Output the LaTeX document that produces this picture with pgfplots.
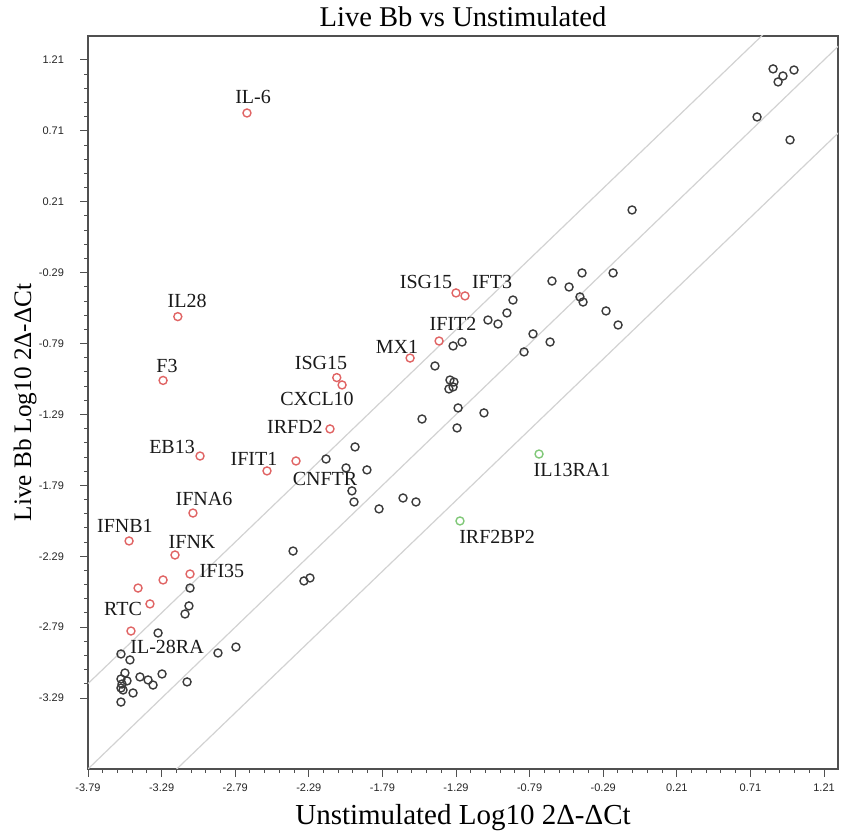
\documentclass[border=0pt]{standalone}
\usepackage{fontspec}
\setmainfont{Liberation Serif}
\newfontfamily\tickfont{Liberation Sans}
\usepackage{pgfplots}
\pgfplotsset{compat=1.18}
\definecolor{ptblack}{HTML}{3A3A3A}
\definecolor{ptred}{HTML}{E06464}
\definecolor{ptgreen}{HTML}{80C878}
\definecolor{diag}{HTML}{D2D2D2}
\definecolor{axcol}{HTML}{505050}

\pgfplotstableread{
x y
0.864 1.147
0.931 1.097
0.898 1.055
1.006 1.139
0.755 0.808
0.979 0.646
-0.094 0.152
-0.638 -0.349
-0.434 -0.292
-0.223 -0.292
-0.522 -0.391
-0.448 -0.461
-0.427 -0.497
-0.271 -0.560
-0.189 -0.659
-0.903 -0.483
-0.944 -0.574
-1.073 -0.624
-1.005 -0.652
-0.767 -0.722
-0.651 -0.779
-0.828 -0.849
-1.249 -0.779
-1.310 -0.807
-1.433 -0.948
-1.331 -1.047
-1.304 -1.061
-1.310 -1.096
-1.338 -1.110
-1.276 -1.244
-1.100 -1.279
-1.521 -1.322
-1.283 -1.385
-1.976 -1.519
-2.173 -1.604
-2.037 -1.667
-1.895 -1.681
-1.997 -1.829
-1.983 -1.907
-1.813 -1.956
-1.650 -1.879
-1.562 -1.907
-2.397 -2.253
-2.323 -2.464
-2.282 -2.443
-3.097 -2.514
-3.104 -2.640
-3.131 -2.697
-3.314 -2.831
-2.907 -2.972
-2.785 -2.930
-3.566 -2.979
-3.505 -3.021
-3.539 -3.113
-3.437 -3.141
-3.382 -3.162
-3.348 -3.198
-3.287 -3.120
-3.117 -3.176
-3.566 -3.155
-3.559 -3.191
-3.566 -3.219
-3.552 -3.233
-3.525 -3.169
-3.484 -3.254
-3.566 -3.318
}\blackpts

\pgfplotstableread{
x y
-2.710 0.836
-3.180 -0.600
-3.280 -1.050
-2.100 -1.030
-2.064 -1.082
-2.146 -1.392
-2.377 -1.618
-2.574 -1.688
-3.029 -1.583
-3.077 -1.985
-3.511 -2.182
-3.199 -2.281
-3.097 -2.415
-3.280 -2.457
-3.450 -2.514
-3.369 -2.626
-3.498 -2.817
-1.290 -0.433
-1.229 -0.454
-1.405 -0.772
-1.602 -0.892
}\redpts

\pgfplotstableread{
x y
-0.726 -1.569
-1.263 -2.041
}\greenpts

\begin{document}
\begin{tikzpicture}
\path[use as bounding box] (-44pt,-34.5pt) rectangle (376.5pt,384.5pt);
\begin{axis}[
  scale only axis, width=375pt, height=366.5pt,
  at={(0,0)}, anchor=south west,
  xmin=-3.79, xmax=1.305, ymin=-3.79, ymax=1.379,
  xtick={-3.79,-3.29,-2.79,-2.29,-1.79,-1.29,-0.79,-0.29,0.21,0.71,1.21},
  xticklabels={-3.79,-3.29,-2.79,-2.29,-1.79,-1.29,-0.79,-0.29,0.21,0.71,1.21},
  ytick={-3.29,-2.79,-2.29,-1.79,-1.29,-0.79,-0.29,0.21,0.71,1.21},
  yticklabels={-3.29,-2.79,-2.29,-1.79,-1.29,-0.79,-0.29,0.21,0.71,1.21},
  minor x tick num=4, minor y tick num=4,
  tick align=outside, xtick pos=bottom, ytick pos=left,
  major tick length=4pt, minor tick length=2pt,
  every tick/.style={axcol, line width=0.5pt},
  axis line style={axcol, line width=0.9pt},
  xticklabel style={font=\tickfont\fontsize{5.5}{6}\selectfont, text=black!85},
  yticklabel style={font=\tickfont\fontsize{5.5}{6}\selectfont, text=black!85, xshift=-4.5pt},
  clip=true,
]
\addplot[diag, line width=0.6pt] coordinates {(-3.79,-3.79) (1.4,1.4)};
\addplot[diag, line width=0.6pt] coordinates {(-3.79,-3.188) (1.4,1.992)};
\addplot[diag, line width=0.6pt] coordinates {(-3.79,-4.392) (1.4,0.788)};

\addplot[only marks, mark=o, mark size=2pt, ptblack, mark options={line width=0.7pt}] table[x=x,y=y] {\blackpts};
\addplot[only marks, mark=o, mark size=2pt, ptred, mark options={line width=0.7pt}] table[x=x,y=y] {\redpts};
\addplot[only marks, mark=o, mark size=2pt, ptgreen, mark options={line width=0.7pt}] table[x=x,y=y] {\greenpts};

\begin{scope}[every node/.style={font=\fontsize{10}{12}\selectfont, text=black!90, inner sep=0pt}]
\node at (axis cs:-2.669,0.949) {IL-6};
\node at (axis cs:-3.117,-0.490) {IL28};
\node at (axis cs:-3.253,-0.948) {F3};
\node at (axis cs:-2.207,-0.927) {ISG15};
\node at (axis cs:-2.234,-1.181) {CXCL10};
\node at (axis cs:-2.384,-1.378) {IRFD2};
\node at (axis cs:-3.219,-1.519) {EB13};
\node at (axis cs:-2.662,-1.604) {IFIT1};
\node at (axis cs:-2.180,-1.745) {CNFTR};
\node at (axis cs:-3.002,-1.886) {IFNA6};
\node at (axis cs:-3.539,-2.076) {IFNB1};
\node at (axis cs:-3.083,-2.189) {IFNK};
\node at (axis cs:-2.880,-2.394) {IFI35};
\node at (axis cs:-3.552,-2.662) {RTC};
\node at (axis cs:-3.253,-2.930) {IL-28RA};
\node at (axis cs:-1.494,-0.356) {ISG15};
\node at (axis cs:-1.045,-0.356) {IFT3};
\node at (axis cs:-1.310,-0.652) {IFIT2};
\node at (axis cs:-1.691,-0.814) {MX1};
\node at (axis cs:-0.502,-1.681) {IL13RA1};
\node at (axis cs:-1.011,-2.154) {IRF2BP2};
\end{scope}
\end{axis}
\node[inner sep=0pt] at (187.5pt,376pt) {\fontsize{14.3}{17}\selectfont Live Bb vs Unstimulated};
\node[inner sep=0pt] at (187.5pt,-24.5pt) {\fontsize{14.5}{17}\selectfont Unstimulated Log10 2Δ-ΔCt};
\node[inner sep=0pt, rotate=90] at (-31.5pt,183.25pt) {\fontsize{12.6}{15}\selectfont Live Bb Log10 2Δ-ΔCt};
\end{tikzpicture}
\end{document}
